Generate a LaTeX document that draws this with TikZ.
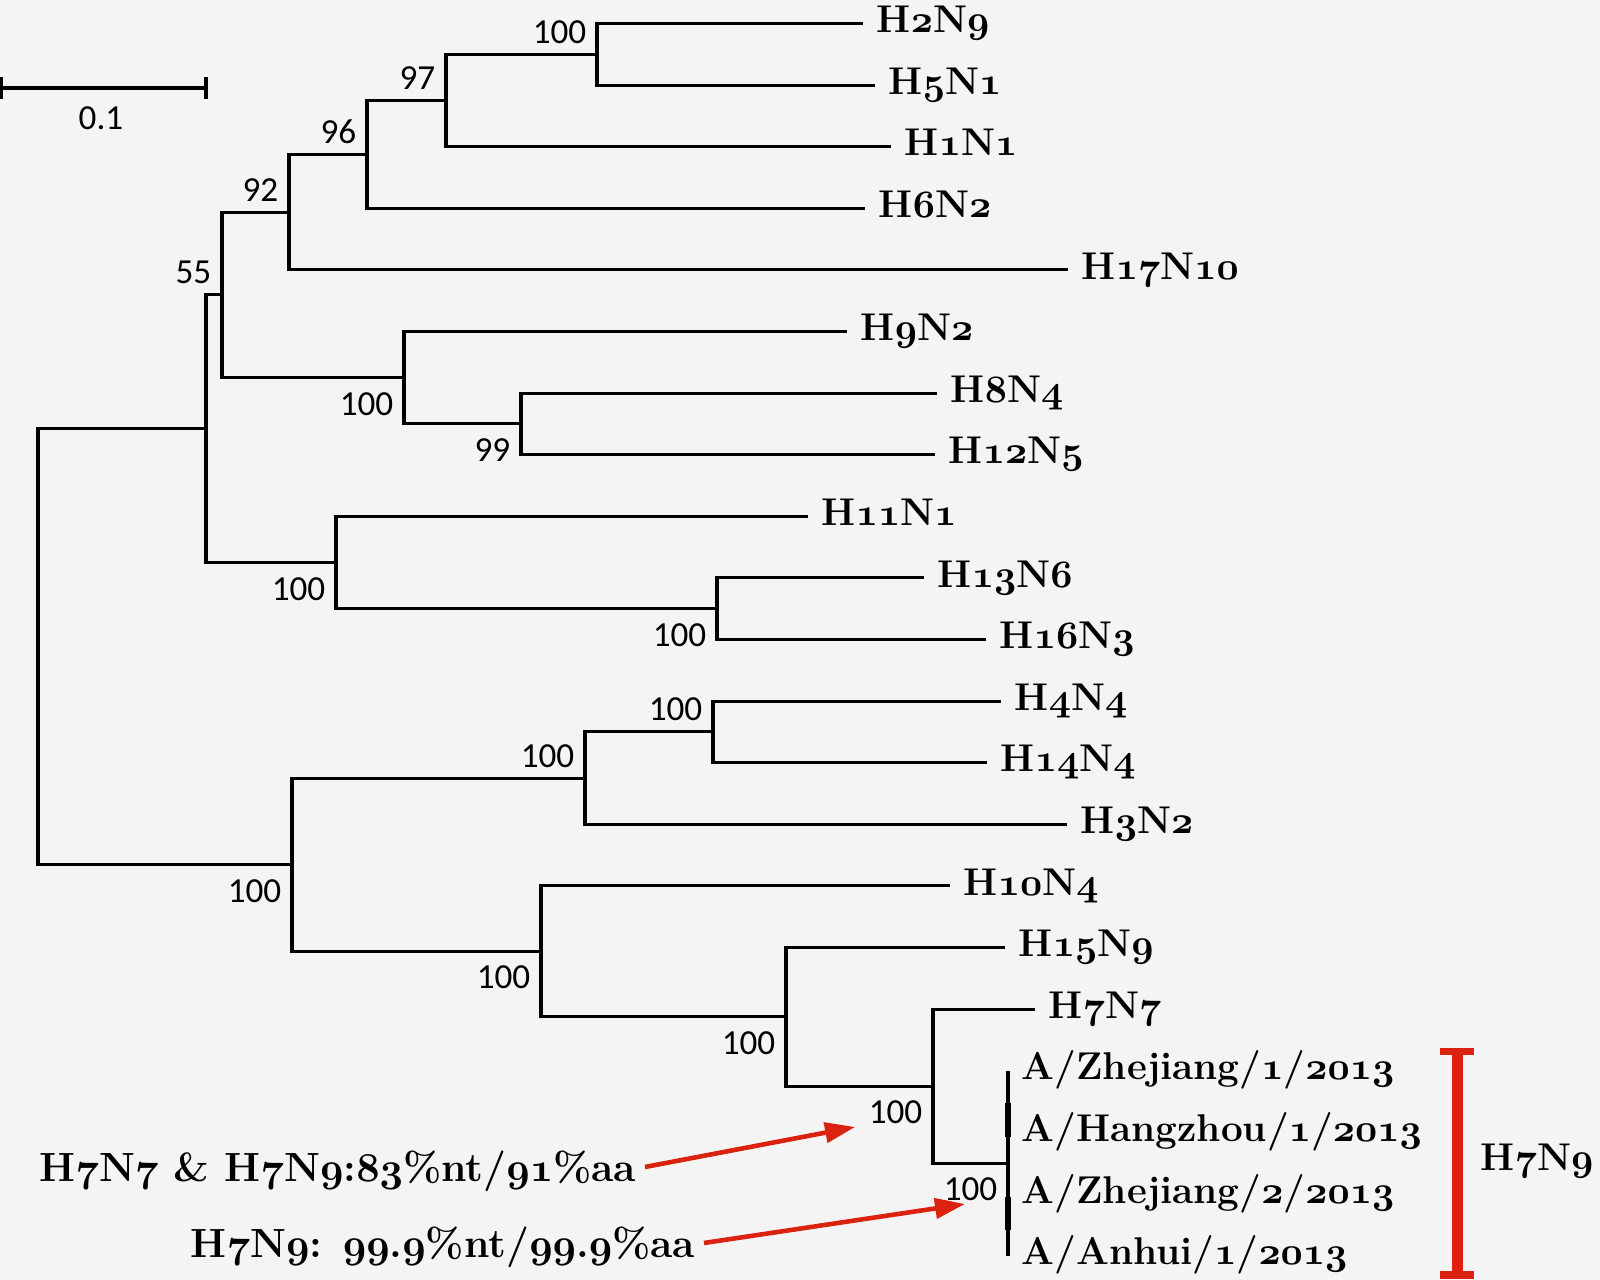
\RequirePackage{fix-cm}
\documentclass[tikz,border=0pt]{standalone}
\usepackage{fontspec}
\newfontfamily\bootfont{Carlito}
\usetikzlibrary{arrows.meta}
\definecolor{paper}{RGB}{244,244,244}
\definecolor{treered}{RGB}{218,34,14}
% old-style figures for the taxon labels
\newcommand\on[1]{{\fontencoding{OML}\fontfamily{cmm}\fontseries{b}\fontshape{it}\selectfont #1}}
\tikzset{
  branch/.style={line width=0.9pt},
  leaf/.style={anchor=west,inner xsep=1.3mm,inner ysep=0pt,text height=2.65mm,text depth=0.8mm,
    font=\fontsize{11}{13}\selectfont\bfseries},
  boot/.style={inner sep=0pt,font=\bootfont\fontsize{10}{12}\selectfont},
  boot up/.style={boot,anchor=south east,xshift=-1mm,yshift=1mm},
  boot down/.style={boot,anchor=north east,xshift=-1mm,yshift=-1.4mm},
  note/.style={leaf,anchor=east,inner xsep=0.8mm,text height=2.8mm,text depth=0pt,
    font=\fontsize{11.6}{14}\selectfont\bfseries},
  pointer/.style={-{Triangle[length=3mm,width=2mm]},line width=1.3pt,draw=treered},
}

\begin{document}
\begin{tikzpicture}[x=0.01cm,y=-0.01cm]
  \fill[paper] (0,0) rectangle (1600,1280);
  \useasboundingbox (0,0) rectangle (1600,1280);

  % scale bar
  \draw[branch] (1,77) -- (1,99) (1,88) -- (206,88) (206,77) -- (206,99);
  \node[boot] (scale) at (101,118) {0.1};

  % internal nodes
  \coordinate (root) at (38,646.7);
  \coordinate (n11) at (206,428.7);
  \coordinate (n6) at (222,294.9);
  \coordinate (n5) at (289,212.2);
  \coordinate (n4) at (367,154.4);
  \coordinate (n3) at (446,100.5);
  \coordinate (n2) at (597,54.3);
  \coordinate (n7) at (404,377.7);
  \coordinate (n8) at (521,423.9);
  \coordinate (n9) at (336,562.5);
  \coordinate (n10) at (717,608.7);
  \coordinate (n12) at (292,864.7);
  \coordinate (n13) at (585,778.1);
  \coordinate (n14) at (713,731.9);
  \coordinate (n15) at (541,951.4);
  \coordinate (n16) at (786,1016.8);
  \coordinate (n17) at (933,1086.1);
  \coordinate (n18) at (1008,1163.1);

  % taxa
  \foreach \i/\x/\lab in {0/863/H\on{2}N\on{9}, 1/875/H\on{5}N\on{1}, 2/891/H\on{1}N\on{1},
      3/865/H\on{6}N\on{2}, 4/1068/H\on{17}N\on{10}, 5/847/H\on{9}N\on{2}, 6/937/H\on{8}N\on{4},
      7/935/H\on{12}N\on{5}, 8/808/H\on{11}N\on{1}, 9/924/H\on{13}N\on{6}, 10/986/H\on{16}N\on{3},
      11/1001/H\on{4}N\on{4}, 12/987/H\on{14}N\on{4}, 13/1067/H\on{3}N\on{2}, 14/950/H\on{10}N\on{4},
      15/1005/H\on{15}N\on{9}, 16/1035/H\on{7}N\on{7},
      17/1008/{A/Zhejiang/\on{1}/\on{2013}}, 18/1008/{A/Hangzhou/\on{1}/\on{2013}},
      19/1008/{A/Zhejiang/\on{2}/\on{2013}}, 20/1008/{A/Anhui/\on{1}/\on{2013}}}
    \node[leaf] (l\i) at (\x,{23.5+61.6*\i}) {\lab};

  % branches
  \draw[branch] (root) |- (n11) (root) |- (n12)
    (n11) |- (n6) (n11) |- (n9)
    (n6) |- (n5) (n6) |- (n7)
    (n5) |- (n4) (n5) |- (l4.west)
    (n4) |- (n3) (n4) |- (l3.west)
    (n3) |- (n2) (n3) |- (l2.west)
    (n2) |- (l0.west) (n2) |- (l1.west)
    (n7) |- (l5.west) (n7) |- (n8)
    (n8) |- (l6.west) (n8) |- (l7.west)
    (n9) |- (l8.west) (n9) |- (n10)
    (n10) |- (l9.west) (n10) |- (l10.west)
    (n12) |- (n13) (n12) |- (n15)
    (n13) |- (n14) (n13) |- (l13.west)
    (n14) |- (l11.west) (n14) |- (l12.west)
    (n15) |- (l14.west) (n15) |- (n16)
    (n16) |- (l15.west) (n16) |- (n17)
    (n17) |- (l16.west) (n17) |- (n18)
    (n18) |- (l17.west) (n18) |- (l20.west);
  \draw[line width=1.8pt] (1008,1103) -- (1008,1137) (1008,1197) -- (1008,1230);

  % bootstrap values
  \node[boot up] (b2) at (n2) {100};
  \node[boot up] (b3) at (n3) {97};
  \node[boot up] (b4) at (n4) {96};
  \node[boot up] (b5) at (n5) {92};
  \node[boot up] (b6) at (n6) {55};
  \node[boot down] (b7) at (n7) {100};
  \node[boot down] (b8) at (n8) {99};
  \node[boot down] (b9) at (n9) {100};
  \node[boot down] (b10) at (n10) {100};
  \node[boot down] (b12) at (n12) {100};
  \node[boot up] (b13) at (n13) {100};
  \node[boot up] (b14) at (n14) {100};
  \node[boot down] (b15) at (n15) {100};
  \node[boot down] (b16) at (n16) {100};
  \node[boot down] (b17) at (n17) {100};
  \node[boot down] (b18) at (n18) {100};

  % H7N9 cluster
  \draw[treered,line width=0.7mm] (1440,1052) -- (1474,1052) (1440,1275) -- (1474,1275);
  \draw[treered,line width=1.1mm] (1457,1052) -- (1457,1275);
  \node[leaf] (h7n9) at (1467,1161) {H\on{7}N\on{9}};

  % identities
  \node[note] (t1) at (645,1167) {H\on{7}N\on{7} \& H\on{7}N\on{9}:\on{83}\%nt/\on{91}\%aa};
  \node[note] (t2) at (704,1243) {H\on{7}N\on{9}: \on{99}.\on{9}\%nt/\on{99}.\on{9}\%aa};
  \coordinate (tip1) at (855,1127);
  \coordinate (tip2) at (965,1204);
  \draw[pointer] (t1.east) -- (tip1);
  \draw[pointer] (t2.east) -- (tip2);
\end{tikzpicture}
\end{document}
